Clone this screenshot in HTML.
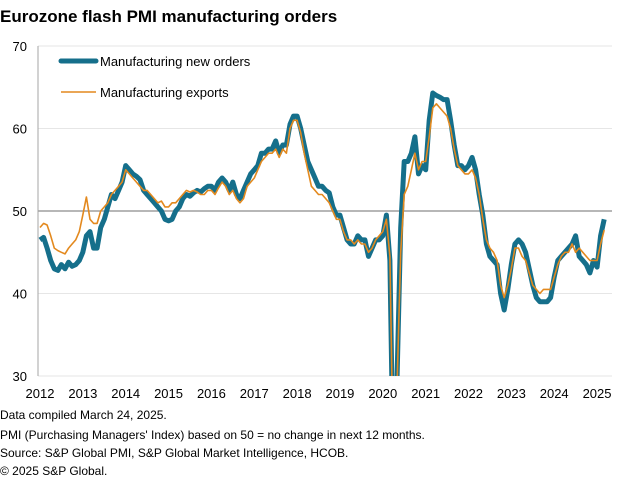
<!DOCTYPE html>
<html><head><meta charset="utf-8"><style>
body{margin:0;background:#fff;font-family:"Liberation Sans",Arial,sans-serif;}
#wrap{position:relative;width:634px;height:490px;overflow:hidden;}
.t{position:absolute;left:0;top:7px;font-size:17px;font-weight:bold;color:#000;}
.f{position:absolute;left:0;font-size:12px;color:#000;}
</style></head><body>
<div id="wrap">
<div class="t">Eurozone flash PMI manufacturing orders</div>
<svg id="c" width="634" height="490" style="position:absolute;left:0;top:0"></svg>
<div class="f" style="top:408px">Data compiled March 24, 2025.</div>
<div class="f" style="top:428px">PMI (Purchasing Managers' Index) based on 50 = no change in next 12 months.</div>
<div class="f" style="top:446px">Source: S&amp;P Global PMI, S&amp;P Global Market Intelligence, HCOB.</div>
<div class="f" style="top:464px">© 2025 S&amp;P Global.</div>
</div>
<script>
const yTicks=[30,40,50,60,70];
const xYears=[2012,2013,2014,2015,2016,2017,2018,2019,2020,2021,2022,2023,2024,2025];
const newOrders=[46.5,46.8,45.5,44,43,42.8,43.5,43,43.8,43.3,43.5,44,
45,47,47.5,45.5,45.5,48,49,50.5,52,51.5,52.5,53.5,
55.5,55,54.5,54.2,53.8,52.5,52,51.5,51,50.5,50,49,
48.8,49,50,50.5,51.5,52,51.8,52.2,52.5,52.3,52.7,53,
53,52.5,53.5,54,53.5,52.5,53.5,52,51.5,52.5,53.5,54.5,
55,55.5,57,57,57.5,57.5,58.5,57,58,58,60.5,61.5,
61.5,60,58,56,55,54,53,53,52.5,52.2,50.5,49.5,
49.5,48,46.5,46,46,47,46.5,46.5,44.5,45.5,46.5,46.5,
47,49.5,44,17,30,48,56,56,57,59,54.5,55.5,
55,61,64.3,64,63.8,63.5,63.5,61,58,55.5,55.5,55,
55.5,56.5,55,52,49.5,46,44.5,44,43.5,40,38,40.5,
43.5,46,46.5,46,45,43,41,39.5,39,39,39,39.5,
42,44,44.5,45,45.5,46,47,44.5,44,43.5,42.5,44,
43.2,47,49];
const exportsS=[48,48.5,48.3,47,45.5,45.2,45,44.8,45.5,46,46.5,47.5,
49.5,51.7,49,48.5,48.5,50,50.5,51,52,52.5,53,53.5,
55,54.5,54,53.5,53,52.5,52.5,52,51.5,51,51.2,50.5,
50.5,51,51,51.5,52,52.5,52.3,52.5,52.3,52,52,52.5,
52.5,52,52.8,53.5,53,52,52.5,51.5,51,51.5,53,53.5,
54,55,56,56.5,57,57,57.5,56.5,57.5,57,60,61,
61,59.5,57,55,53,52.5,52,52,51.5,51,50,49,
49,47.5,46.5,46.5,46,46.5,46,46,45,45.5,46.5,47,
47.5,49,44.5,18,29,45,52,53,55,57,55,56,
56,59,62.5,63,62.5,62,61.5,60,57.5,55.5,55,54.5,
54.5,55,54,52,49,46.5,45.5,45,44,41,39.5,41,
43,45.5,45.5,44.5,44,42.5,41,40.5,40,40.5,40.5,40.5,
42,43.5,44.5,45,45,46,45,45.5,45,44.5,44,44,
44,46,47.7];
const L=40,R=612,T=46,B=376,yMin=30,yMax=70,pxYear=42.85;
const y=v=>B-(v-yMin)/(yMax-yMin)*(B-T);
const x=i=>L+i*pxYear/12;
const svg=document.getElementById('c');const NS='http://www.w3.org/2000/svg';
function mk(t,a){const e=document.createElementNS(NS,t);for(const k in a)e.setAttribute(k,a[k]);svg.appendChild(e);return e;}
const defs=mk('defs',{});const cp=document.createElementNS(NS,'clipPath');cp.setAttribute('id','pc');
const cr=document.createElementNS(NS,'rect');cr.setAttribute('x',L-3);cr.setAttribute('y',T-5);cr.setAttribute('width',R-L+8);cr.setAttribute('height',B-T+5);cp.appendChild(cr);defs.appendChild(cp);
yTicks.forEach(v=>{
const g=mk('line',{x1:L-2,x2:R,y1:y(v),y2:y(v),stroke:v===50?'#8c8c8c':'#e6e6e6','stroke-width':v===50?1.2:1});


const t=mk('text',{x:27,y:y(v)+5,'text-anchor':'end','font-size':13,fill:'#000','font-family':'Liberation Sans, sans-serif'});t.textContent=v;


});
const ax=mk('line',{x1:L-2,x2:L-2,y1:T,y2:B,stroke:'#a6a6a6','stroke-width':1});


xYears.forEach((yr,i)=>{
const t=mk('text',{x:x(i*12),y:398,'text-anchor':'middle','font-size':13,fill:'#000','font-family':'Liberation Sans, sans-serif'});t.textContent=yr;


});
function path(d){return d.map((v,i)=>(i?'L':'M')+x(i).toFixed(1)+','+y(v).toFixed(1)).join('');}
const p1=mk('path',{d:path(newOrders),fill:'none',stroke:'#156f8b','stroke-width':5,'stroke-linejoin':'round','clip-path':'url(#pc)'});


const p2=mk('path',{d:path(exportsS),fill:'none',stroke:'#e3891e','stroke-width':1.6,'stroke-linejoin':'round','clip-path':'url(#pc)'});


const l1=mk('line',{x1:61,x2:96,y1:61,y2:61,stroke:'#156f8b','stroke-width':5,'stroke-linecap':'round'});


const t1=mk('text',{x:100,y:66,'font-size':13,fill:'#000','font-family':'Liberation Sans, sans-serif'});t1.textContent='Manufacturing new orders';


const l2=mk('line',{x1:61,x2:96,y1:92,y2:92,stroke:'#e3891e','stroke-width':1.6});


const t2=mk('text',{x:100,y:97,'font-size':13,fill:'#000','font-family':'Liberation Sans, sans-serif'});t2.textContent='Manufacturing exports';


</script>
</body></html>
